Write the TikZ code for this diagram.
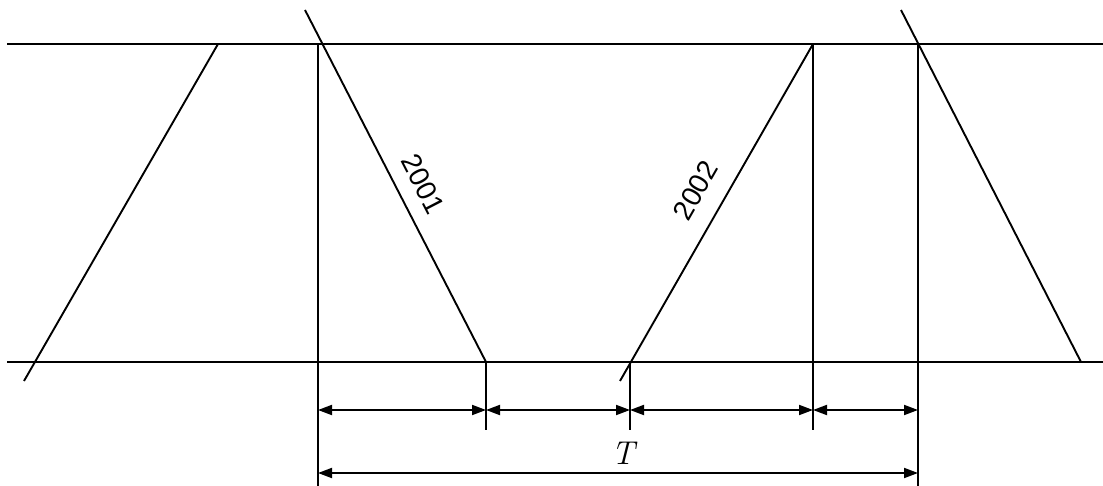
\documentclass[tikz,border=0pt]{standalone}
\usepackage{fontspec}
\newfontfamily\labfont{Liberation Sans}
\usetikzlibrary{arrows.meta}
\begin{document}
\begin{tikzpicture}[x=1pt,y=-1pt,
  ln/.style={line width=1.9pt,black},
  dim/.style={line width=1.9pt,black,{Triangle[length=14pt,width=10pt]}-{Triangle[length=14pt,width=10pt]}},
  lab/.style={font=\labfont\fontsize{28}{28}\selectfont,inner sep=0pt}]
\useasboundingbox (0,0) rectangle (1103,486);
% horizontal lines
\coordinate (TL) at (7,44);   \coordinate (TR) at (1103,44);
\coordinate (BL) at (7,362);  \coordinate (BR) at (1103,362);
\draw[ln] (TL) -- (TR);
\draw[ln] (BL) -- (BR);
% left slanted line
\coordinate (a1) at (218,44); \coordinate (a2) at (24,381);
\draw[ln] (a1) -- (a2);
% line 2001
\coordinate (b1) at (305,10); \coordinate (b2) at (486,362);
\draw[ln] (b1) -- (b2);
% line 2002
\coordinate (c1) at (813,44); \coordinate (c2) at (620,381);
\draw[ln] (c1) -- (c2);
% right slanted line
\coordinate (d1) at (901,10); \coordinate (d2) at (1081,362);
\draw[ln] (d1) -- (d2);
% vertical extension lines
\coordinate (v1t) at (318,44);  \coordinate (v1b) at (318,486);
\coordinate (v2t) at (486,362); \coordinate (v2b) at (486,430);
\coordinate (v3t) at (630,362); \coordinate (v3b) at (630,430);
\coordinate (v4t) at (813,44);  \coordinate (v4b) at (813,430);
\coordinate (v5t) at (918,44);  \coordinate (v5b) at (918,486);
\draw[ln] (v1t) -- (v1b);
\draw[ln] (v2t) -- (v2b);
\draw[ln] (v3t) -- (v3b);
\draw[ln] (v4t) -- (v4b);
\draw[ln] (v5t) -- (v5b);
% dimension arrows
\coordinate (m1) at (318,410); \coordinate (m2) at (486,410);
\coordinate (m3) at (630,410); \coordinate (m4) at (813,410);
\coordinate (m5) at (918,410);
\draw[dim] (m1) -- (m2);
\draw[dim] (m2) -- (m3);
\draw[dim] (m3) -- (m4);
\draw[dim] (m4) -- (m5);
\coordinate (t1) at (318,473); \coordinate (t2) at (918,473);
\draw[dim] (t1) -- (t2);
\node[inner sep=0pt,font=\fontsize{33}{33}\selectfont\itshape] (T) at (623,453) {T};
% labels
\node[lab,rotate=-62.7] (L2001) at (423,184) {2001};
\node[lab,rotate=60.1] (L2002) at (695.5,190.5) {2002};
\end{tikzpicture}
\end{document}
